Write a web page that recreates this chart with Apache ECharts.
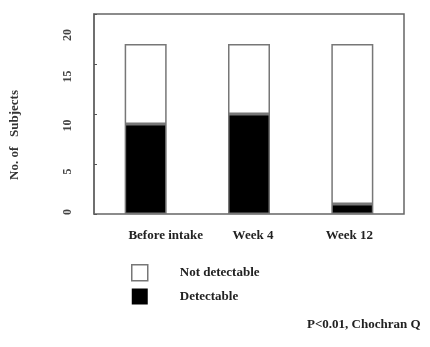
<!DOCTYPE html>
<html><head><meta charset="utf-8">
<script src="https://cdn.jsdelivr.net/npm/echarts@6/dist/echarts.min.js"></script>
<style>html,body{margin:0;padding:0;background:#fff}#c{width:430px;height:347px}</style>
</head><body><div id="c"></div>
<script>
const categories = ['Before intake', 'Week 4', 'Week 12'];
const detectable = [9, 10, 1];
const notDetectable = [8, 7, 16];
const yTicks = [0, 5, 10, 15, 20];

const font = 'Liberation Serif';
const yPad = { 0: [0, 0, 0, 4], 5: [0, 15, 0, 0], 10: [0, 23, 0, 0], 15: [0, 25, 0, 0], 20: [0, 42, 0, 0] };
const yRich = {};
yTicks.forEach(function (t) {
  yRich['t' + t] = { fontFamily: font, fontSize: 12, fontWeight: 'bold', color: '#444', padding: yPad[t] };
});

const chart = echarts.init(document.getElementById('c'));
chart.setOption({
  animation: false,
  backgroundColor: '#fff',
  textStyle: { fontFamily: font },
  grid: { left: 94, top: 14, right: 26, bottom: 133, show: true, borderColor: '#666', borderWidth: 1.5, backgroundColor: 'transparent' },
  legend: {
    orient: 'vertical', left: 126, top: 259, itemWidth: 16, itemHeight: 16, itemGap: 7,
    icon: 'rect',
    data: [
      { name: 'Not detectable', itemStyle: { color: '#fff', borderColor: '#777', borderWidth: 1.5 } },
      { name: 'Detectable', itemStyle: { color: '#000', borderColor: '#000', borderWidth: 0 } }
    ],
    textStyle: { fontFamily: font, fontSize: 13, fontWeight: 'bold', color: '#222', padding: [0, 0, 0, 27] }
  },
  xAxis: {
    type: 'category', data: categories,
    axisLine: { show: false }, axisTick: { show: false },
    axisLabel: {
      interval: 0, hideOverlap: false,
      margin: 15, fontFamily: font, fontSize: 13, fontWeight: 'bold', color: '#222',
      formatter: function (v, i) { return i === 0 ? '{a|' + v + '}' : (i === 1 ? '{b|' + v + '}' : '{c|' + v + '}'); },
      rich: {
        a: { fontFamily: font, fontSize: 13, fontWeight: 'bold', color: '#222', padding: [0, 0, 0, 40] },
        b: { fontFamily: font, fontSize: 13, fontWeight: 'bold', color: '#222', padding: [0, 0, 0, 8] },
        c: { fontFamily: font, fontSize: 13, fontWeight: 'bold', color: '#222', padding: [0, 6, 0, 0] }
      }
    }
  },
  yAxis: {
    type: 'value', min: 0, max: 20, interval: 5,
    name: 'No. of   Subjects', nameLocation: 'middle', nameGap: 73, nameRotate: 90,
    nameTextStyle: { fontFamily: font, fontSize: 13, fontWeight: 'bold', color: '#333', padding: [0, 42, 0, 0] },
    axisLine: { show: true, lineStyle: { color: '#666', width: 1.5 } },
    axisTick: { show: true, inside: true, length: 3, lineStyle: { color: '#555' } },
    splitLine: { show: false },
    axisLabel: {
      rotate: 90, margin: 20, fontFamily: font, fontSize: 12, fontWeight: 'bold', color: '#444',
      formatter: function (v) { return yTicks.indexOf(v) >= 0 ? '{t' + v + '|' + v + '}' : ''; },
      rich: yRich
    }
  },
  series: [
    { name: 'Detectable', type: 'bar', stack: 's', data: detectable, barWidth: 42,
      itemStyle: { color: '#000', borderColor: '#777', borderWidth: 1.5 } },
    { name: 'Not detectable', type: 'bar', stack: 's', data: notDetectable, barWidth: 42,
      itemStyle: { color: '#fff', borderColor: '#777', borderWidth: 1.5 } }
  ],
  graphic: [
    { type: 'text', left: 307, top: 318, style: { text: 'P<0.01, Chochran Q', font: 'bold 13px ' + font, fill: '#222' } }
  ]
});
</script></body></html>
